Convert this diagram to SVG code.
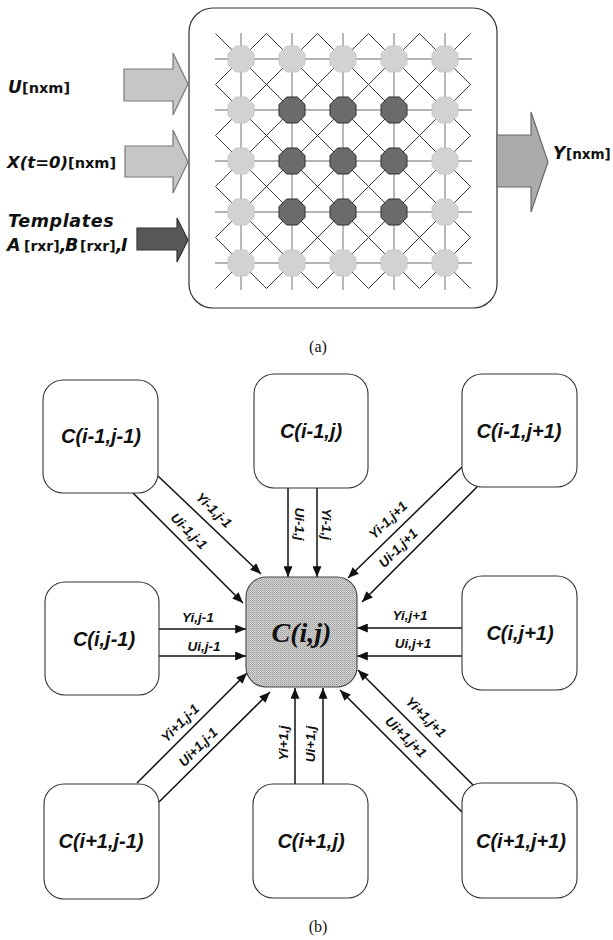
<svg xmlns="http://www.w3.org/2000/svg" width="613" height="940" viewBox="0 0 613 940">
<style>
.bi{font-family:"DejaVu Sans","Liberation Sans",sans-serif;font-weight:bold;font-style:italic;fill:#111}
.b{font-family:"DejaVu Sans","Liberation Sans",sans-serif;font-weight:bold;fill:#111}
.cap{font-family:"Liberation Serif","Times New Roman",serif;font-size:16px;fill:#111;text-anchor:middle}
.box{fill:#fff;stroke:#333;stroke-width:1.1}
.nt{font-family:"Liberation Sans",Arial,sans-serif;font-weight:bold;font-style:italic;font-size:20px;text-anchor:middle;fill:#111}
.lb{font-family:"Liberation Sans",Arial,sans-serif;font-weight:bold;font-style:italic;font-size:13.5px;text-anchor:middle;fill:#111}
.cn{stroke:#111;stroke-width:1.5;fill:none;marker-end:url(#ah)}
.grid{stroke:#9a9a9a;stroke-width:1.4}
.diag{stroke:#3a3a3a;stroke-width:1}
.lo{fill:#d2d2d2;stroke:#c4c4c4;stroke-width:0.8}
.dk{fill:#6b6b6b;stroke:#2e2e2e;stroke-width:1}
</style>
<defs>
<marker id="ah" viewBox="0 0 12 10" refX="12" refY="5" markerWidth="12" markerHeight="9" markerUnits="userSpaceOnUse" orient="auto">
<path d="M0,0 L12,5 L0,10 z" fill="#111"/>
</marker>
<polygon id="oct" points="5.4,-13 13,-5.4 13,5.4 5.4,13 -5.4,13 -13,5.4 -13,-5.4 -5.4,-13"/>
<pattern id="chk" width="2" height="2" patternUnits="userSpaceOnUse">
<rect width="2" height="2" fill="#d4d4d4"/>
<rect width="1" height="1" fill="#9c9c9c"/>
<rect x="1" y="1" width="1" height="1" fill="#b4b4b4"/>
</pattern>
</defs>
<rect width="613" height="940" fill="#fff"/>

<!-- (a) -->
<g id="cnn-array">
<rect x="189" y="8" width="308" height="300" rx="24" fill="#fff" stroke="#333" stroke-width="1.2"/>
<g class="grid">
<line x1="241" y1="33" x2="241" y2="290"/>
<line x1="292" y1="33" x2="292" y2="290"/>
<line x1="343" y1="33" x2="343" y2="290"/>
<line x1="394" y1="33" x2="394" y2="290"/>
<line x1="445" y1="33" x2="445" y2="290"/>
<line x1="215" y1="59" x2="472" y2="59"/>
<line x1="215" y1="110" x2="472" y2="110"/>
<line x1="215" y1="161" x2="472" y2="161"/>
<line x1="215" y1="212" x2="472" y2="212"/>
<line x1="215" y1="263" x2="472" y2="263"/>
</g>
<g class="diag">
<line x1="215.5" y1="33.5" x2="470.5" y2="288.5"/>
<line x1="266.5" y1="33.5" x2="470.5" y2="237.5"/>
<line x1="317.5" y1="33.5" x2="470.5" y2="186.5"/>
<line x1="368.5" y1="33.5" x2="470.5" y2="135.5"/>
<line x1="419.5" y1="33.5" x2="470.5" y2="84.5"/>
<line x1="215.5" y1="84.5" x2="419.5" y2="288.5"/>
<line x1="215.5" y1="135.5" x2="368.5" y2="288.5"/>
<line x1="215.5" y1="186.5" x2="317.5" y2="288.5"/>
<line x1="215.5" y1="237.5" x2="266.5" y2="288.5"/>
<line x1="215.5" y1="84.5" x2="266.5" y2="33.5"/>
<line x1="215.5" y1="135.5" x2="317.5" y2="33.5"/>
<line x1="215.5" y1="186.5" x2="368.5" y2="33.5"/>
<line x1="215.5" y1="237.5" x2="419.5" y2="33.5"/>
<line x1="215.5" y1="288.5" x2="470.5" y2="33.5"/>
<line x1="266.5" y1="288.5" x2="470.5" y2="84.5"/>
<line x1="317.5" y1="288.5" x2="470.5" y2="135.5"/>
<line x1="368.5" y1="288.5" x2="470.5" y2="186.5"/>
<line x1="419.5" y1="288.5" x2="470.5" y2="237.5"/>
</g>
<g id="cells">
<use href="#oct" class="lo" x="241" y="59"/>
<use href="#oct" class="lo" x="292" y="59"/>
<use href="#oct" class="lo" x="343" y="59"/>
<use href="#oct" class="lo" x="394" y="59"/>
<use href="#oct" class="lo" x="445" y="59"/>
<use href="#oct" class="lo" x="241" y="110"/>
<use href="#oct" class="dk" x="292" y="110"/>
<use href="#oct" class="dk" x="343" y="110"/>
<use href="#oct" class="dk" x="394" y="110"/>
<use href="#oct" class="lo" x="445" y="110"/>
<use href="#oct" class="lo" x="241" y="161"/>
<use href="#oct" class="dk" x="292" y="161"/>
<use href="#oct" class="dk" x="343" y="161"/>
<use href="#oct" class="dk" x="394" y="161"/>
<use href="#oct" class="lo" x="445" y="161"/>
<use href="#oct" class="lo" x="241" y="212"/>
<use href="#oct" class="dk" x="292" y="212"/>
<use href="#oct" class="dk" x="343" y="212"/>
<use href="#oct" class="dk" x="394" y="212"/>
<use href="#oct" class="lo" x="445" y="212"/>
<use href="#oct" class="lo" x="241" y="263"/>
<use href="#oct" class="lo" x="292" y="263"/>
<use href="#oct" class="lo" x="343" y="263"/>
<use href="#oct" class="lo" x="394" y="263"/>
<use href="#oct" class="lo" x="445" y="263"/>
</g>
</g>
<g id="io-arrows">
<polygon points="124,69 173,69 173,53 188,84 173,115 173,101 124,101" fill="#c6c6c6" stroke="#7a7a7a" stroke-width="1.2"/>
<polygon points="125,146 173,146 173,130 188,162 173,193 173,177 125,177" fill="#c6c6c6" stroke="#7a7a7a" stroke-width="1.2"/>
<polygon points="137,228 177,228 177,218 188,240 177,262 177,250 137,250" fill="#575757" stroke="#333" stroke-width="1.2"/>
<polygon points="497,135 531,135 531,112 548,162 531,212 531,187 497,187" fill="#ababab" stroke="#6a6a6a" stroke-width="1.2"/>
</g>
<g id="io-labels">
<text y="93"><tspan x="8" class="bi" font-size="17">U</tspan><tspan x="22" class="b" font-size="14.5">[nxm]</tspan></text>
<text y="168"><tspan x="7" class="bi" font-size="16.5">X(t=0)</tspan><tspan x="68" class="b" font-size="14.5">[nxm]</tspan></text>
<text x="8" y="227" class="bi" font-size="17.5" letter-spacing="0.6">Templates</text>
<text y="251"><tspan x="7" class="bi" font-size="17.5">A</tspan><tspan x="24" class="b" font-size="14">[rxr]</tspan><tspan class="bi" font-size="17.5">,</tspan><tspan x="65" class="bi" font-size="17.5">B</tspan><tspan x="80" class="b" font-size="14">[rxr]</tspan><tspan class="bi" font-size="17.5">,</tspan><tspan x="121" class="bi" font-size="17.5">I</tspan></text>
<text y="159"><tspan x="553" class="bi" font-size="17">Y</tspan><tspan x="566" class="b" font-size="13.5">[nxm]</tspan></text>
</g>
<text x="318" y="352" class="cap">(a)</text>

<!-- (b) -->
<g id="connectors">
<line class="cn" x1="288" y1="488" x2="288" y2="577"/>
<line class="cn" x1="317" y1="488" x2="317" y2="577"/>
<line class="cn" x1="295" y1="784" x2="295" y2="688"/>
<line class="cn" x1="323" y1="784" x2="323" y2="688"/>
<line class="cn" x1="159" y1="629" x2="246" y2="629"/>
<line class="cn" x1="159" y1="656" x2="246" y2="656"/>
<line class="cn" x1="462" y1="628" x2="357" y2="628"/>
<line class="cn" x1="462" y1="656" x2="357" y2="656"/>
<line class="cn" x1="158" y1="476" x2="261" y2="574"/>
<line class="cn" x1="133" y1="493" x2="243" y2="603"/>
<line class="cn" x1="462" y1="467" x2="348" y2="578"/>
<line class="cn" x1="477" y1="487" x2="362" y2="602"/>
<line class="cn" x1="137" y1="783" x2="247" y2="673"/>
<line class="cn" x1="159" y1="802" x2="270" y2="692"/>
<line class="cn" x1="473" y1="785" x2="358" y2="670"/>
<line class="cn" x1="462" y1="812" x2="340" y2="690"/>
<g id="connector-labels">
<text class="lb" transform="translate(300,524) rotate(90)" dy="0.35em">Ui-1,j</text>
<text class="lb" transform="translate(327,524) rotate(90)" dy="0.35em">Yi-1,j</text>
<text class="lb" transform="translate(283,743) rotate(-90)" dy="0.35em">Yi+1,j</text>
<text class="lb" transform="translate(310,744) rotate(-90)" dy="0.35em">Ui+1,j</text>
<text class="lb" x="198" y="622">Yi,j-1</text>
<text class="lb" x="204" y="651">Ui,j-1</text>
<text class="lb" x="410" y="620">Yi,j+1</text>
<text class="lb" x="413" y="648">Ui,j+1</text>
<text class="lb" transform="translate(214,510) rotate(44)" dy="0.35em">Yi-1,j-1</text>
<text class="lb" transform="translate(189,531) rotate(45)" dy="0.35em">Ui-1,j-1</text>
<text class="lb" transform="translate(388,520) rotate(-44)" dy="0.35em">Yi-1,j+1</text>
<text class="lb" transform="translate(398,548) rotate(-45)" dy="0.35em">Ui-1,j+1</text>
<text class="lb" transform="translate(180,723) rotate(-45)" dy="0.35em">Yi+1,j-1</text>
<text class="lb" transform="translate(198,747) rotate(-45)" dy="0.35em">Ui+1,j-1</text>
<text class="lb" transform="translate(426,717) rotate(45)" dy="0.35em">Yi+1,j+1</text>
<text class="lb" transform="translate(406,737) rotate(45)" dy="0.35em">Ui+1,j+1</text>
</g>
</g>

<g id="n-im1-jm1"><rect class="box" x="43" y="380" width="115" height="113" rx="20"/><text class="nt" x="101" y="443">C(i-1,j-1)</text></g>
<g id="n-im1-j"><rect class="box" x="254" y="374" width="114" height="114" rx="20"/><text class="nt" x="311" y="438">C(i-1,j)</text></g>
<g id="n-im1-jp1"><rect class="box" x="462" y="374" width="115" height="113" rx="20"/><text class="nt" x="519" y="438">C(i-1,j+1)</text></g>
<g id="n-i-jm1"><rect class="box" x="45" y="582" width="114" height="113" rx="20"/><text class="nt" x="104" y="646">C(i,j-1)</text></g>
<g id="n-i-j"><rect x="246" y="577" width="111" height="110" rx="20" fill="url(#chk)" stroke="#444" stroke-width="1.1"/><text x="301.5" y="642" text-anchor="middle" font-family="'Liberation Serif','Times New Roman',serif" font-weight="bold" font-style="italic" font-size="28" fill="#111">C(i,j)</text></g>
<g id="n-i-jp1"><rect class="box" x="462" y="576" width="115" height="114" rx="20"/><text class="nt" x="520" y="640">C(i,j+1)</text></g>
<g id="n-ip1-jm1"><rect class="box" x="44" y="784" width="115" height="115" rx="20"/><text class="nt" x="101" y="848">C(i+1,j-1)</text></g>
<g id="n-ip1-j"><rect class="box" x="253" y="784" width="115" height="114" rx="20"/><text class="nt" x="311" y="848">C(i+1,j)</text></g>
<g id="n-ip1-jp1"><rect class="box" x="462" y="783" width="115" height="115" rx="20"/><text class="nt" x="521" y="848">C(i+1,j+1)</text></g>

<text x="318" y="932" class="cap">(b)</text>
</svg>
